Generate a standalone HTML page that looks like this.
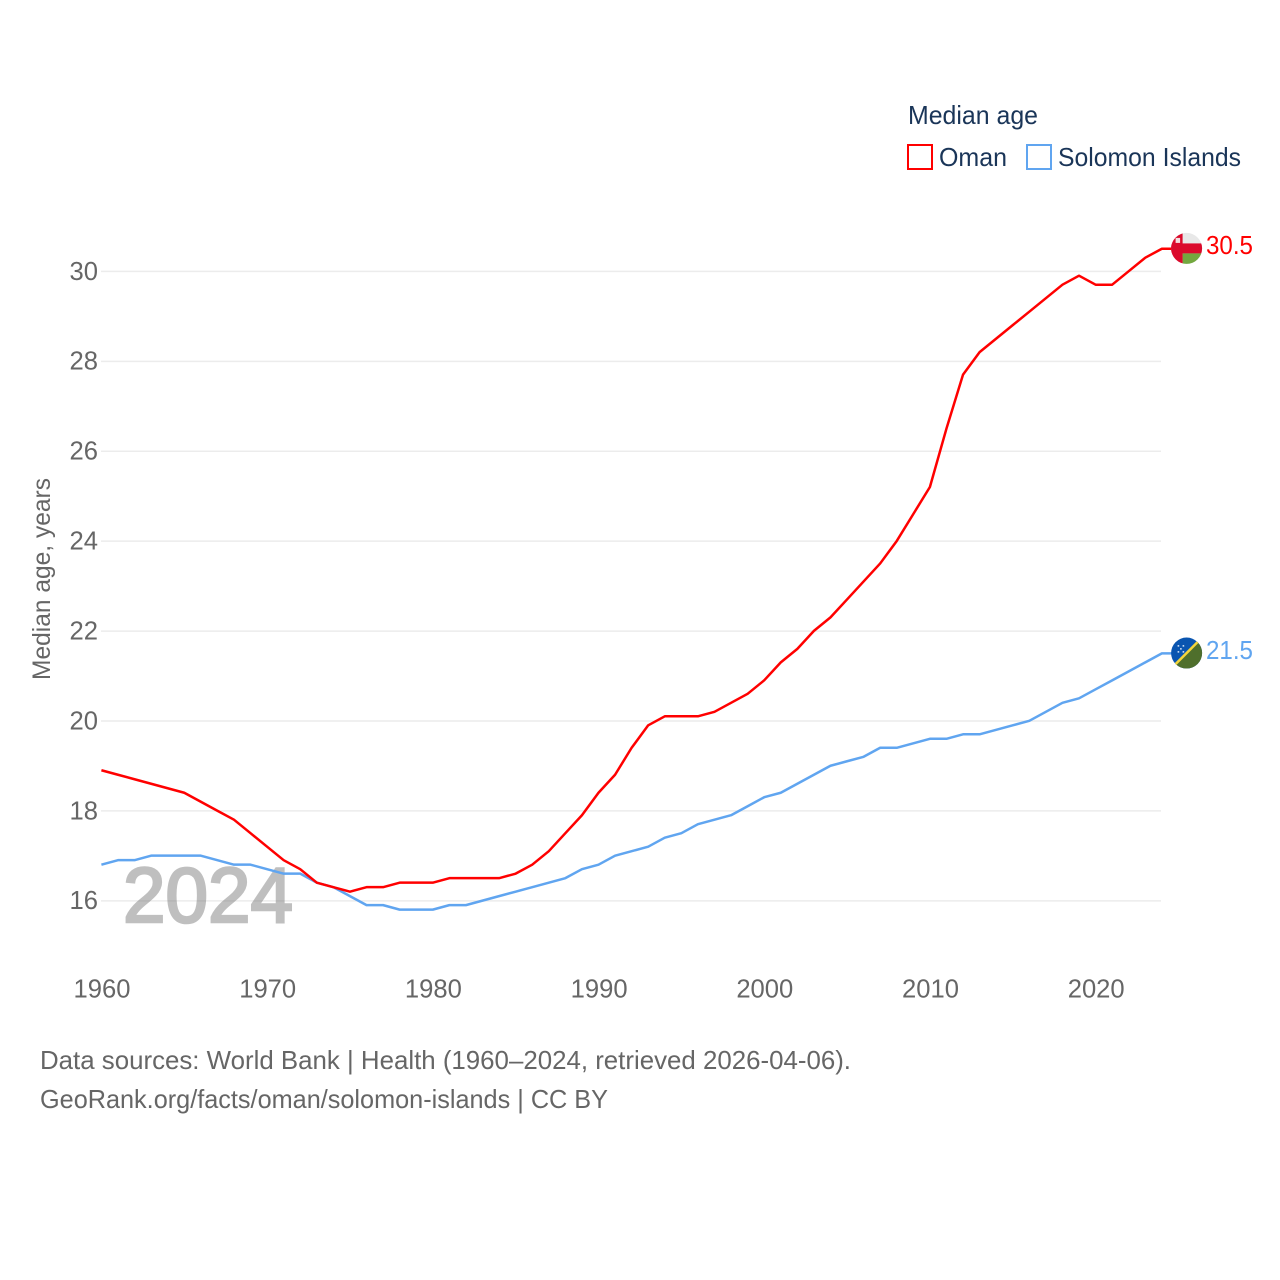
<!DOCTYPE html>
<html>
<head>
<meta charset="utf-8">
<title>Median age: Oman and Solomon Islands</title>
<style>
html,body{margin:0;padding:0;background:#fff;width:1280px;height:1280px;overflow:hidden}
svg{display:block}
text{font-family:"Liberation Sans",sans-serif}
</style>
</head>
<body>
<svg id="chart" width="1280" height="1280" viewBox="0 0 1280 1280" xmlns="http://www.w3.org/2000/svg">
  <defs>
    <clipPath id="flag-clip-oman"><circle cx="0" cy="0" r="15.5"></circle></clipPath>
    <clipPath id="flag-clip-solomon"><circle cx="0" cy="0" r="15.5"></circle></clipPath>
  </defs>
  <g id="grid"></g>
  <text x="123" y="922" font-size="78" fill="#808080" stroke="#808080" stroke-width="2.6" opacity="0.5" textLength="170" lengthAdjust="spacingAndGlyphs">2024</text>
  <g id="yticks"></g>
  <g id="xticks"></g>
  <text transform="translate(50 680) rotate(-90)" font-size="25" fill="#666" textLength="202" lengthAdjust="spacingAndGlyphs">Median age, years</text>
  <g id="series"></g>
  <g id="ends"></g>
  <g>
    <text x="908" y="124" font-size="25.6" fill="#1a3558" textLength="130" lengthAdjust="spacingAndGlyphs">Median age</text>
    <g>
      <rect x="908" y="145" width="24" height="24" fill="none" stroke="#ff0000" stroke-width="2"></rect>
      <text x="939" y="166" font-size="25.6" fill="#1a3558" textLength="68" lengthAdjust="spacingAndGlyphs">Oman</text>
    </g>
    <g>
      <rect x="1027" y="145" width="24" height="24" fill="none" stroke="#60a5f0" stroke-width="2"></rect>
      <text x="1058" y="166" font-size="25.6" fill="#1a3558" textLength="183" lengthAdjust="spacingAndGlyphs">Solomon Islands</text>
    </g>
  </g>
  <text x="40" y="1069" font-size="25.6" fill="#666" textLength="811" lengthAdjust="spacingAndGlyphs">Data sources: World Bank | Health (1960–2024, retrieved 2026-04-06).</text>
  <text x="40" y="1108" font-size="25.6" fill="#666" textLength="568" lengthAdjust="spacingAndGlyphs">GeoRank.org/facts/oman/solomon-islands | CC BY</text>
</svg>
<script>
const years = [1960,1961,1962,1963,1964,1965,1966,1967,1968,1969,1970,1971,1972,1973,1974,1975,1976,1977,1978,1979,1980,1981,1982,1983,1984,1985,1986,1987,1988,1989,1990,1991,1992,1993,1994,1995,1996,1997,1998,1999,2000,2001,2002,2003,2004,2005,2006,2007,2008,2009,2010,2011,2012,2013,2014,2015,2016,2017,2018,2019,2020,2021,2022,2023,2024];
const omanValues = [18.9,18.8,18.7,18.6,18.5,18.4,18.2,18.0,17.8,17.5,17.2,16.9,16.7,16.4,16.3,16.2,16.3,16.3,16.4,16.4,16.4,16.5,16.5,16.5,16.5,16.6,16.8,17.1,17.5,17.9,18.4,18.8,19.4,19.9,20.1,20.1,20.1,20.2,20.4,20.6,20.9,21.3,21.6,22.0,22.3,22.7,23.1,23.5,24.0,24.6,25.2,26.5,27.7,28.2,28.5,28.8,29.1,29.4,29.7,29.9,29.7,29.7,30.0,30.3,30.5];
const solomonValues = [16.8,16.9,16.9,17.0,17.0,17.0,17.0,16.9,16.8,16.8,16.7,16.6,16.6,16.4,16.3,16.1,15.9,15.9,15.8,15.8,15.8,15.9,15.9,16.0,16.1,16.2,16.3,16.4,16.5,16.7,16.8,17.0,17.1,17.2,17.4,17.5,17.7,17.8,17.9,18.1,18.3,18.4,18.6,18.8,19.0,19.1,19.2,19.4,19.4,19.5,19.6,19.6,19.7,19.7,19.8,19.9,20.0,20.2,20.4,20.5,20.7,20.9,21.1,21.3,21.5];
const yTickLabels = [16,18,20,22,24,26,28,30];
const xTickLabels = [1960,1970,1980,1990,2000,2010,2020];

const NS = 'http://www.w3.org/2000/svg';
function xScale(year){ return 101.4 + (year - 1960) * 16.57; }
function yScale(v){ return 271.2 + (30 - v) * 44.96; }
function make(tag, attrs, parent){
  const el = document.createElementNS(NS, tag);
  for (const k in attrs) el.setAttribute(k, attrs[k]);
  parent.appendChild(el);
  return el;
}

const grid = document.getElementById('grid');
const yticks = document.getElementById('yticks');
const xticks = document.getElementById('xticks');
const seriesG = document.getElementById('series');
const ends = document.getElementById('ends');

yTickLabels.forEach(function(v){
  const line = make('line', {x1:101, x2:1161, y1:yScale(v)+0.2, y2:yScale(v)+0.2, stroke:'#ececec', 'stroke-width':1.5}, grid);
  
  
  const t = make('text', {x:98, y:yScale(v)+8.6, 'text-anchor':'end', 'font-size':25.6, fill:'#666'}, yticks);
  
  
  t.textContent = v;
});

xTickLabels.forEach(function(yr){
  const t = make('text', {x:xScale(yr)+0.6, y:997.5, 'text-anchor':'middle', 'font-size':25.6, fill:'#666'}, xticks);
  
  
  t.textContent = yr;
});

function drawSeries(values, color){
  const pts = values.map(function(v, i){ return xScale(years[i]).toFixed(2) + ',' + yScale(v).toFixed(2); });
  const last = values[values.length - 1];
  pts.push((xScale(years[years.length - 1]) + 10) + ',' + yScale(last).toFixed(2));
  const line = make('polyline', {points:pts.join(' '), fill:'none', stroke:color, 'stroke-width':2.5, 'stroke-linejoin':'round'}, seriesG);
  
  
}
drawSeries(solomonValues, '#60a5f0');
drawSeries(omanValues, '#ff0000');

function drawEnd(values, color, clipId, paint){
  const last = values[values.length - 1];
  const cy = yScale(last) - 0.3;
  const g = make('g', {transform:'translate(1186.6 ' + cy + ')'}, ends);
  
  
  const inner = make('g', {'clip-path':'url(#' + clipId + ')'}, g);
  paint(inner);
  const t = make('text', {x:1206, y:yScale(last)+5.4, 'font-size':25.6, fill:color, textLength:47, lengthAdjust:'spacingAndGlyphs'}, ends);
  
  
  t.textContent = last.toFixed(1);
}

drawEnd(omanValues, '#ff0000', 'flag-clip-oman', function(g){
  make('rect', {x:-16, y:-16, width:32, height:32, fill:'#e8e8e8'}, g);
  make('rect', {x:-16, y:-5, width:32, height:10, fill:'#db0a2c'}, g);
  make('rect', {x:-4, y:5, width:20, height:11, fill:'#73a83f'}, g);
  make('rect', {x:-16, y:-16, width:12, height:32, fill:'#db0a2c'}, g);
  make('rect', {x:-11, y:-10.5, width:4.5, height:5, fill:'#f3dede'}, g);
});

drawEnd(solomonValues, '#60a5f0', 'flag-clip-solomon', function(g){
  make('rect', {x:-16, y:-16, width:32, height:32, fill:'#0a55b0'}, g);
  make('polygon', {points:'16,-16 16,16 -16,16', fill:'#4f6f2c'}, g);
  make('line', {x1:-16, y1:16, x2:16, y2:-16, stroke:'#f5d63c', 'stroke-width':2.5}, g);
  [[-9,-8],[-4,-8],[-6.5,-5],[-9,-2],[-4,-2]].forEach(function(p){
    make('rect', {x:p[0], y:p[1], width:1.6, height:1.6, fill:'#cfe0f5'}, g);
  });
});
</script>
</body>
</html>
